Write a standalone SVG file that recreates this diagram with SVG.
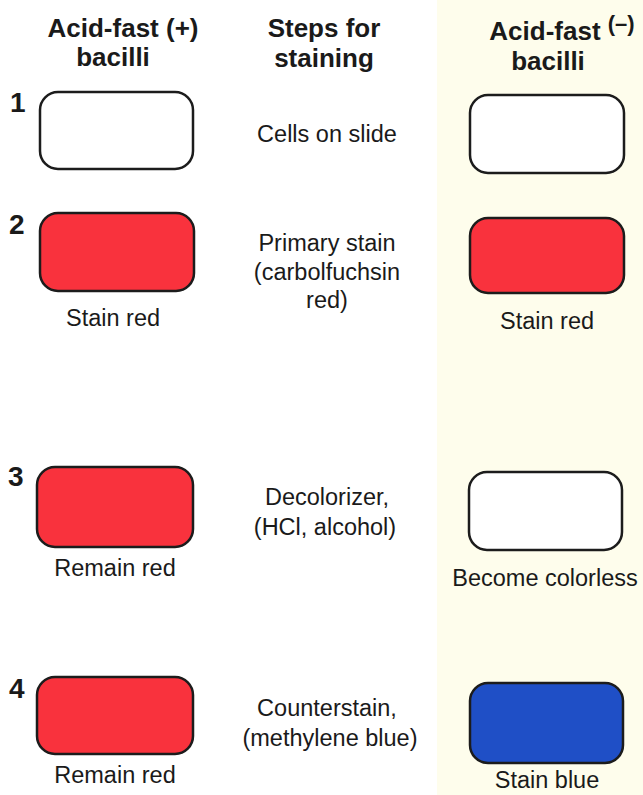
<svg xmlns="http://www.w3.org/2000/svg" width="643" height="795" viewBox="0 0 643 795">
<style>
  text { font-family: "Liberation Sans", "DejaVu Sans", sans-serif; fill: #1a1a1a; text-anchor: middle; font-size: 23.5px; }
  .hdr { font-weight: bold; font-size: 26px; }
  .num { font-weight: bold; font-size: 28px; text-anchor: start; }
  .box { stroke: #1c1c1c; stroke-width: 2.5; }
  .white { fill: #ffffff; }
  .red { fill: #f9323d; }
  .blue { fill: #1f4fc6; }
</style>
<rect x="0" y="0" width="643" height="795" fill="#ffffff"/>
<rect x="437" y="0" width="206" height="795" fill="#fefdec"/>

<g id="headers">
  <text class="hdr" x="123" y="37">Acid-fast (+)</text>
  <text class="hdr" x="113" y="66">bacilli</text>
  <text class="hdr" x="324" y="37">Steps for</text>
  <text class="hdr" x="324" y="67">staining</text>
  <text class="hdr" x="562" y="40">Acid-fast <tspan font-size="22" dy="-9">(–)</tspan></text>
  <text class="hdr" x="548" y="70">bacilli</text>
</g>

<g id="step1">
  <text class="num" x="10" y="112">1</text>
  <rect class="box white" x="40" y="92" width="153" height="77" rx="18"/>
  <text x="327" y="142">Cells on slide</text>
  <rect class="box white" x="470" y="95" width="154" height="78" rx="18"/>
</g>

<g id="step2">
  <text class="num" x="9" y="234">2</text>
  <rect class="box red" x="40" y="213" width="154" height="78" rx="18"/>
  <text x="113" y="326">Stain red</text>
  <text x="327" y="251">Primary stain</text>
  <text x="327" y="280">(carbolfuchsin</text>
  <text x="327" y="308">red)</text>
  <rect class="box red" x="470" y="218" width="154" height="75" rx="18"/>
  <text x="547" y="329">Stain red</text>
</g>

<g id="step3">
  <text class="num" x="8" y="486">3</text>
  <rect class="box red" x="37" y="467" width="156" height="80" rx="18"/>
  <text x="115" y="576">Remain red</text>
  <text x="327" y="505">Decolorizer,</text>
  <text x="325" y="535">(HCl, alcohol)</text>
  <rect class="box white" x="469" y="472" width="153" height="78" rx="18"/>
  <text x="545" y="586">Become colorless</text>
</g>

<g id="step4">
  <text class="num" x="9" y="698">4</text>
  <rect class="box red" x="37" y="677" width="156" height="77" rx="18"/>
  <text x="115" y="783">Remain red</text>
  <text x="327" y="716">Counterstain,</text>
  <text x="330" y="746">(methylene blue)</text>
  <rect class="box blue" x="470" y="683" width="153" height="80" rx="18"/>
  <text x="547" y="788">Stain blue</text>
</g>

<g id="connectors"></g>
</svg>
